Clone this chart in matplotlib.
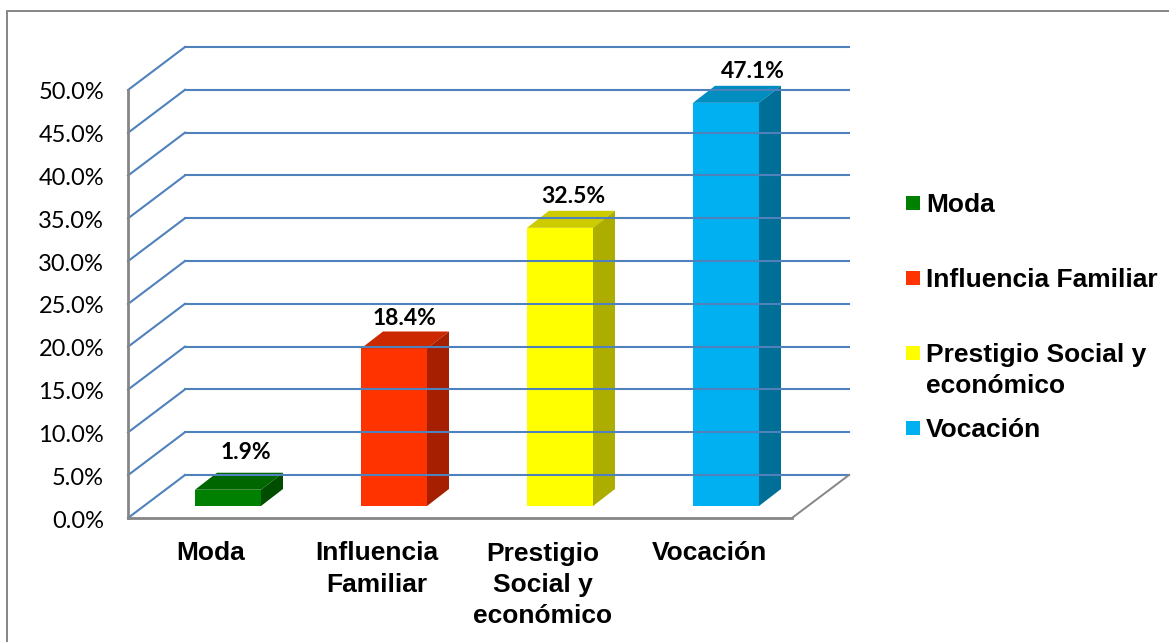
import matplotlib
matplotlib.use("Agg")
import matplotlib.pyplot as plt
from matplotlib.patches import Polygon, Rectangle

plt.rcParams["font.family"] = ["Liberation Sans", "DejaVu Sans"]

W, H = 1169, 642

categories = ["Moda", "Influencia\nFamiliar", "Prestigio\nSocial y\neconómico", "Vocación"]
legend_labels = ["Moda", "Influencia Familiar", "Prestigio Social y\neconómico", "Vocación"]
values = [1.9, 18.4, 32.5, 47.1]
value_labels = ["1.9%", "18.4%", "32.5%", "47.1%"]
y_ticks = [0, 5, 10, 15, 20, 25, 30, 35, 40, 45, 50]

front_colors = ["#008000", "#FF3300", "#FFFF00", "#00B0F0"]
top_colors = ["#006600", "#CC2900", "#CCCC00", "#008DC0"]
side_colors = ["#004D00", "#A61F00", "#ADAD00", "#006F98"]
grid_color = "#4F81BD"
axis_color = "#868686"

# axes covers the front face of the box, x in categories, y in percent
fig = plt.figure(figsize=(W / 100, H / 100), dpi=100)
ax = fig.add_axes([128 / W, 1 - 518 / H, (792 - 128) / W, 428 / H])
ax.set_xlim(-0.5, 3.5)
ax.set_ylim(0, 50)
ax.axis("off")

px = 4 / (792 - 128)
py = 50 / 428
back_dx = 57 * px
back_dy = 43 * py

# chart border
fig.add_artist(Rectangle((7 / W, -0.01), 1300 / W, (642 - 11) / H + 0.01, fill=False,
                         edgecolor=axis_color, linewidth=1.4, transform=fig.transFigure))

# back wall and left wall grid
for t in y_ticks:
    ax.plot([-0.5 + back_dx, 3.5 + back_dx], [t + back_dy, t + back_dy],
            color=grid_color, lw=1.5, clip_on=False)
    ax.plot([-0.5, -0.5 + back_dx], [t, t + back_dy], color=grid_color, lw=1.5, clip_on=False)

# tick labels
for t in y_ticks:
    ax.text(-0.5 - 24 * px, t - 1 * py, f"{t:.1f}%", ha="right", va="center_baseline", fontsize=17,
            family=["Lato", "DejaVu Sans"], color="black")

# floor front edges
ax.plot([-0.5, -0.5], [0, 50], color=axis_color, lw=2, clip_on=False)
ax.plot([-0.5, 3.5], [0, 0], color=axis_color, lw=2, clip_on=False)
ax.plot([3.5, 3.5 + back_dx], [0, back_dy], color=axis_color, lw=1.4, clip_on=False)

# bars
bar_w = 66 * px
bar_dx = 22 * px
bar_dy = 17 * py
base = 12 * py
bar_shift = 17 * px
label_dx = [18, 11, 13, 27]
label_gap = [22, 15, 16, 16]
for i, v in enumerate(values):
    left = i + bar_shift - bar_w / 2
    right = i + bar_shift + bar_w / 2
    top = v + base
    ax.add_patch(Rectangle((left, base), bar_w, v, facecolor=front_colors[i], edgecolor="none", clip_on=False))
    ax.add_patch(Polygon([(left, top), (right, top), (right + bar_dx, top + bar_dy), (left + bar_dx, top + bar_dy)],
                         facecolor=top_colors[i], edgecolor="none", clip_on=False))
    ax.add_patch(Polygon([(right, base), (right + bar_dx, base + bar_dy), (right + bar_dx, top + bar_dy), (right, top)],
                         facecolor=side_colors[i], edgecolor="none", clip_on=False))
    ax.text(i + bar_shift + label_dx[i] * px, top + bar_dy + label_gap[i] * py, value_labels[i],
            ha="center", va="center_baseline", fontsize=16.5, fontweight="bold",
            family=["Lato", "DejaVu Sans"], color="black")
    ax.text(i, -23.5 * py, categories[i], ha="center", va="top", fontsize=19,
            fontweight="bold", color="black", linespacing=1.38)

# legend, written by hand to keep the uneven spacing of the original
legend_y = [203, 278, 353, 428]
for lab, c, ly in zip(legend_labels, front_colors, legend_y):
    fig.add_artist(Rectangle((906 / W, 1 - (ly + 7) / H), 14 / W, 14 / H, facecolor=c,
                             edgecolor="none", transform=fig.transFigure))
    fig.text(926 / W, 1 - (ly - 10) / H, lab, ha="left", va="top", fontsize=19, fontweight="bold",
             color="black", linespacing=1.38)

fig.savefig("out.png", dpi=100, facecolor="white")
